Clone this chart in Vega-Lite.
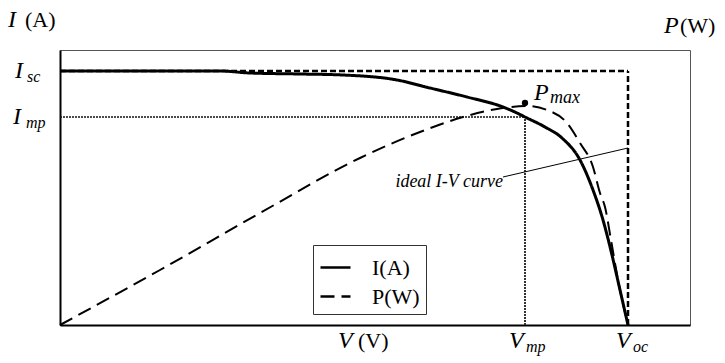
{
  "$schema": "https://vega.github.io/schema/vega-lite/v6.json",
  "width": 630,
  "height": 275,
  "autosize": {"type": "none"},
  "padding": {"left": 60, "top": 50, "right": 35, "bottom": 38},
  "background": "white",
  "config": {
    "view": {"stroke": "#555", "strokeWidth": 1},
    "axis": {"domainColor": "black", "domainWidth": 2, "ticks": false, "labels": false, "grid": false, "title": null},
    "text": {"font": "Liberation Serif", "color": "black", "align": "left", "baseline": "alphabetic"}
  },
  "datasets": {
    "iv": [
      {"V": 0, "I": 25.4}, {"V": 10, "I": 25.4}, {"V": 16, "I": 25.4}, {"V": 19, "I": 25.2},
      {"V": 24, "I": 25.1}, {"V": 28.3, "I": 25.0}, {"V": 33.7, "I": 24.5}, {"V": 37, "I": 23.7},
      {"V": 40.7, "I": 22.8}, {"V": 44.3, "I": 21.8}, {"V": 45.7, "I": 21.2}, {"V": 46.5, "I": 20.8},
      {"V": 48.5, "I": 19.8}, {"V": 50.2, "I": 18.7}, {"V": 52, "I": 16.5}, {"V": 53.3, "I": 13.5},
      {"V": 54.3, "I": 10.5}, {"V": 55.2, "I": 7.0}, {"V": 56, "I": 3.5}, {"V": 56.8, "I": 0}
    ],
    "pv": [
      {"V": 0, "P": 0}, {"V": 10, "P": 5.5}, {"V": 20, "P": 11.2}, {"V": 30, "P": 16.7},
      {"V": 36, "P": 19.3}, {"V": 40.3, "P": 20.8}, {"V": 43.7, "P": 21.6}, {"V": 46.7, "P": 21.9},
      {"V": 48.7, "P": 21.5}, {"V": 50.7, "P": 20.2}, {"V": 52, "P": 18.2}, {"V": 53.3, "P": 15.8},
      {"V": 54, "P": 13.2}, {"V": 54.5, "P": 11.8}, {"V": 55.1, "P": 8.5}, {"V": 55.8, "P": 4.5},
      {"V": 56.8, "P": 0}
    ],
    "points": [
      {"Isc": 25.4, "Imp": 20.8, "Vmp": 46.5, "Voc": 56.8, "Pmax": 22.2, "Vmin": 0, "Vmax": 63, "Imin": 0, "Imax": 27.5}
    ],
    "note": [
      {"V": 44.3, "I": 14.8, "V2": 56.8, "I2": 17.7, "label": "ideal I-V curve"}
    ]
  },
  "layer": [
    {
      "data": {"name": "points"},
      "mark": {"type": "rule", "color": "#111", "strokeWidth": 1.5, "strokeDash": [2, 1]},
      "encoding": {
        "x": {"field": "Vmin", "type": "quantitative", "scale": {"domain": [0, 63], "nice": false, "zero": false}},
        "x2": {"field": "Vmp"},
        "y": {"field": "Imp", "type": "quantitative", "scale": {"domain": [0, 27.5], "nice": false, "zero": false}}
      }
    },
    {
      "data": {"name": "points"},
      "mark": {"type": "rule", "color": "#333", "strokeWidth": 2, "strokeDash": [2, 1]},
      "encoding": {
        "x": {"field": "Vmp", "type": "quantitative"},
        "y": {"field": "Imin", "type": "quantitative"},
        "y2": {"field": "Imp"}
      }
    },
    {
      "data": {"name": "points"},
      "mark": {"type": "rule", "color": "black", "strokeWidth": 2.5, "strokeDash": [6, 3]},
      "encoding": {
        "x": {"field": "Vmin", "type": "quantitative"},
        "x2": {"field": "Voc"},
        "y": {"field": "Isc", "type": "quantitative"}
      }
    },
    {
      "data": {"name": "points"},
      "mark": {"type": "rule", "color": "black", "strokeWidth": 2.5, "strokeDash": [6, 3]},
      "encoding": {
        "x": {"field": "Voc", "type": "quantitative"},
        "y": {"field": "Imin", "type": "quantitative"},
        "y2": {"field": "Isc"}
      }
    },
    {
      "data": {"name": "pv"},
      "mark": {"type": "line", "color": "black", "strokeWidth": 2, "interpolate": "monotone"},
      "encoding": {
        "x": {"field": "V", "type": "quantitative"},
        "y": {"field": "P", "type": "quantitative"},
        "strokeDash": {"datum": "P(W)", "type": "nominal"}
      }
    },
    {
      "data": {"name": "iv"},
      "mark": {"type": "line", "color": "black", "strokeWidth": 3, "interpolate": "monotone"},
      "encoding": {
        "x": {"field": "V", "type": "quantitative"},
        "y": {"field": "I", "type": "quantitative"},
        "strokeDash": {
          "datum": "I(A)",
          "type": "nominal",
          "scale": {"domain": ["I(A)", "P(W)"], "range": [[1, 0], [14, 7]]},
          "legend": {
            "orient": "none", "legendX": 253, "legendY": 195, "title": null,
            "strokeColor": "#333", "fillColor": "white", "padding": 6,
            "symbolType": "stroke", "symbolSize": 900, "symbolStrokeWidth": 2.5,
            "symbolStrokeColor": "black", "labelFont": "Liberation Serif",
            "labelFontSize": 22, "labelColor": "black", "labelOffset": 20, "rowPadding": 1
          }
        }
      }
    },
    {
      "data": {"name": "note"},
      "mark": {"type": "rule", "color": "black", "strokeWidth": 1},
      "encoding": {
        "x": {"field": "V", "type": "quantitative"},
        "y": {"field": "I", "type": "quantitative"},
        "x2": {"field": "V2"},
        "y2": {"field": "I2"}
      }
    },
    {
      "data": {"name": "note"},
      "mark": {"type": "text", "fontStyle": "italic", "fontSize": 18, "align": "right", "dy": 10},
      "encoding": {
        "x": {"field": "V", "type": "quantitative"},
        "y": {"field": "I", "type": "quantitative"},
        "text": {"field": "label"}
      }
    },
    {
      "data": {"name": "points"},
      "mark": {"type": "point", "filled": true, "color": "black", "size": 40, "opacity": 1},
      "encoding": {
        "x": {"field": "Vmp", "type": "quantitative"},
        "y": {"field": "Pmax", "type": "quantitative"}
      }
    },
    {
      "data": {"name": "points"},
      "layer": [
        {"mark": {"type": "text", "text": "P", "fontStyle": "italic", "fontSize": 24, "dx": 9, "dy": -3},
         "encoding": {"x": {"field": "Vmp", "type": "quantitative"}, "y": {"field": "Pmax", "type": "quantitative"}}},
        {"mark": {"type": "text", "text": "max", "fontStyle": "italic", "fontSize": 18, "dx": 25, "dy": 0},
         "encoding": {"x": {"field": "Vmp", "type": "quantitative"}, "y": {"field": "Pmax", "type": "quantitative"}}},
        {"mark": {"type": "text", "text": "I", "fontStyle": "italic", "fontSize": 24, "dx": -45, "dy": 7},
         "encoding": {"x": {"field": "Vmin", "type": "quantitative"}, "y": {"field": "Isc", "type": "quantitative"}}},
        {"mark": {"type": "text", "text": "sc", "fontStyle": "italic", "fontSize": 16, "dx": -33, "dy": 11},
         "encoding": {"x": {"field": "Vmin", "type": "quantitative"}, "y": {"field": "Isc", "type": "quantitative"}}},
        {"mark": {"type": "text", "text": "I", "fontStyle": "italic", "fontSize": 24, "dx": -47, "dy": 7},
         "encoding": {"x": {"field": "Vmin", "type": "quantitative"}, "y": {"field": "Imp", "type": "quantitative"}}},
        {"mark": {"type": "text", "text": "mp", "fontStyle": "italic", "fontSize": 16, "dx": -34, "dy": 11},
         "encoding": {"x": {"field": "Vmin", "type": "quantitative"}, "y": {"field": "Imp", "type": "quantitative"}}},
        {"mark": {"type": "text", "text": "V", "fontStyle": "italic", "fontSize": 24, "dx": -16, "dy": 23},
         "encoding": {"x": {"field": "Vmp", "type": "quantitative"}, "y": {"field": "Imin", "type": "quantitative"}}},
        {"mark": {"type": "text", "text": "mp", "fontStyle": "italic", "fontSize": 16, "dx": 1, "dy": 27},
         "encoding": {"x": {"field": "Vmp", "type": "quantitative"}, "y": {"field": "Imin", "type": "quantitative"}}},
        {"mark": {"type": "text", "text": "V", "fontStyle": "italic", "fontSize": 24, "dx": -12, "dy": 23},
         "encoding": {"x": {"field": "Voc", "type": "quantitative"}, "y": {"field": "Imin", "type": "quantitative"}}},
        {"mark": {"type": "text", "text": "oc", "fontStyle": "italic", "fontSize": 16, "dx": 5, "dy": 27},
         "encoding": {"x": {"field": "Voc", "type": "quantitative"}, "y": {"field": "Imin", "type": "quantitative"}}},
        {"mark": {"type": "text", "text": "I", "fontStyle": "italic", "fontSize": 24, "dx": -52, "dy": -23},
         "encoding": {"x": {"field": "Vmin", "type": "quantitative"}, "y": {"field": "Imax", "type": "quantitative"}}},
        {"mark": {"type": "text", "text": "(A)", "fontSize": 22, "dx": -35, "dy": -23},
         "encoding": {"x": {"field": "Vmin", "type": "quantitative"}, "y": {"field": "Imax", "type": "quantitative"}}},
        {"mark": {"type": "text", "text": "P", "fontStyle": "italic", "fontSize": 24, "dx": -26, "dy": -17},
         "encoding": {"x": {"field": "Vmax", "type": "quantitative"}, "y": {"field": "Imax", "type": "quantitative"}}},
        {"mark": {"type": "text", "text": "(W)", "fontSize": 22, "dx": -10, "dy": -17},
         "encoding": {"x": {"field": "Vmax", "type": "quantitative"}, "y": {"field": "Imax", "type": "quantitative"}}},
        {"mark": {"type": "text", "text": "V", "fontStyle": "italic", "fontSize": 24, "dx": 278, "dy": 23},
         "encoding": {"x": {"field": "Vmin", "type": "quantitative"}, "y": {"field": "Imin", "type": "quantitative"}}},
        {"mark": {"type": "text", "text": "(V)", "fontSize": 22, "dx": 298, "dy": 23},
         "encoding": {"x": {"field": "Vmin", "type": "quantitative"}, "y": {"field": "Imin", "type": "quantitative"}}}
      ]
    }
  ]
}
